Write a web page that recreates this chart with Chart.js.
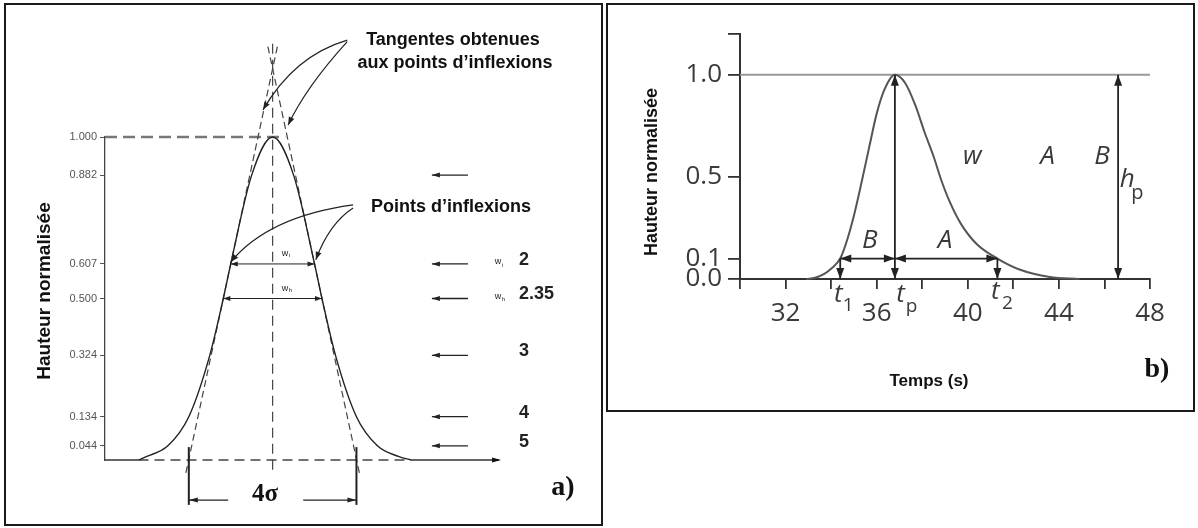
<!DOCTYPE html>
<html>
<head>
<meta charset="utf-8">
<script src="https://cdn.jsdelivr.net/npm/chart.js@4/dist/chart.umd.min.js"></script>
<style>
  body { margin: 0; background: #fff; width: 1198px; height: 528px; position: relative; overflow: hidden; }
  .box { position: absolute; border: 2px solid #1a1a1a; box-sizing: border-box; }
  #boxA { left: 4px; top: 3px; width: 599px; height: 523px; }
  #boxB { left: 606px; top: 3px; width: 589px; height: 409px; }
  canvas { position: absolute; }
  #cA { left: 0; top: 0; }
  #cB { left: 606px; top: 0; }
</style>
</head>
<body>
<div class="box" id="boxA"></div>
<div class="box" id="boxB"></div>
<canvas id="cA" width="604" height="528"></canvas>
<canvas id="cB" width="592" height="412"></canvas>
<script>
// ---- panneau a) : pic gaussien, x en unités de sigma ----
const gaussX = [-3.2, -3.0, -2.5, -2.0, -1.5, -1.177, -1.0, -0.5, 0, 0.5, 1.0, 1.177, 1.5, 2.0, 2.5, 3.0, 3.3]
const gaussY = [0, 0.011, 0.044, 0.134, 0.324, 0.500, 0.607, 0.882, 1.000, 0.882, 0.607, 0.500, 0.324, 0.134, 0.044, 0.011, 0]
const yTicksA = [0.044, 0.134, 0.324, 0.500, 0.607, 0.882, 1.000]
const tanLeftX = [-2.07, 0.13]
const tanLeftY = [-0.04, 1.29]
const tanRightX = [2.07, -0.13]
const tanRightY = [-0.04, 1.29]
const arrowLevelsA = [0.882, 0.607, 0.500, 0.324, 0.134, 0.044]
const widthLabelsA = ['', '2', '2.35', '3', '4', '5']
const widthSubA = ['', 'i', 'h', '', '', '']

// ---- panneau b) : pic avec traînée ----
const tempsB = [32.9, 33.3, 33.7, 34.0, 34.4, 34.7, 35.0, 35.35, 35.7, 36.0, 36.35, 36.8, 37.25, 37.7, 38.1, 38.5, 38.85, 39.2, 39.7, 40.4, 41.3, 42.3, 43.6, 44.9]
const hauteurB = [0, 0.006, 0.025, 0.05, 0.10, 0.19, 0.31, 0.48, 0.66, 0.81, 0.93, 1.0, 0.96, 0.85, 0.72, 0.60, 0.48, 0.38, 0.27, 0.17, 0.10, 0.045, 0.01, 0]
const xTicksB = [30, 32, 34, 36, 38, 40, 42, 44, 46, 48]
const xLabelsB = [32, 36, 40, 44, 48]
const yTicksB = [0, 0.1, 0.5, 1.0, 1.2]
const yLabelsB = ['0.0', '0.1', '0.5', '1.0', '']
const t1 = 34.4, tp = 36.8, t2 = 41.3, hpPos = 46.6

const pts = (xs, ys) => xs.map((x, i) => ({ x, y: ys[i] }))

function head(ctx, x, y, ang, len, half) {
  ctx.beginPath()
  ctx.moveTo(x, y)
  ctx.lineTo(x - len * Math.cos(ang) + half * Math.sin(ang), y - len * Math.sin(ang) - half * Math.cos(ang))
  ctx.lineTo(x - len * Math.cos(ang) - half * Math.sin(ang), y - len * Math.sin(ang) + half * Math.cos(ang))
  ctx.closePath()
  ctx.fill()
}

function arrow(ctx, x1, y1, x2, y2, a1, a2, len, half) {
  ctx.beginPath(); ctx.moveTo(x1, y1); ctx.lineTo(x2, y2); ctx.stroke()
  const ang = Math.atan2(y2 - y1, x2 - x1)
  if (a2) head(ctx, x2, y2, ang, len, half)
  if (a1) head(ctx, x1, y1, ang + Math.PI, len, half)
}

function curveArrow(ctx, p0, c, p1, len, half) {
  ctx.beginPath(); ctx.moveTo(p0[0], p0[1]); ctx.quadraticCurveTo(c[0], c[1], p1[0], p1[1]); ctx.stroke()
  head(ctx, p1[0], p1[1], Math.atan2(p1[1] - c[1], p1[0] - c[0]), len, half)
}

function text(ctx, s, x, y, font, align) {
  ctx.font = font
  ctx.textAlign = align || 'center'
  ctx.textBaseline = 'middle'
  ctx.fillText(s, x, y)
}

const annotA = {
  id: 'annotA',
  afterDraw(chart) {
    const ctx = chart.ctx
    const X = v => chart.scales.x.getPixelForValue(v)
    const Y = v => chart.scales.y.getPixelForValue(v)
    ctx.save()
    ctx.strokeStyle = '#222'; ctx.fillStyle = '#222'; ctx.lineWidth = 1.3

    // flèches à droite + largeurs en sigma
    arrowLevelsA.forEach((l, i) => {
      arrow(ctx, X(4.66), Y(l), X(3.8), Y(l), false, true, 8, 2.5)
      if (widthLabelsA[i]) text(ctx, widthLabelsA[i], X(5.88), Y(l) - 4, 'bold 18px "Liberation Sans"', 'left')
      if (widthSubA[i]) {
        text(ctx, 'w', X(5.3), Y(l) - 2, '9px "Liberation Sans"', 'left')
        text(ctx, widthSubA[i], X(5.3) + 7, Y(l) + 1, '6px "Liberation Sans"', 'left')
      }
    })

    // largeurs wi et wh
    ctx.lineWidth = 1
    arrow(ctx, X(-1), Y(0.607), X(1), Y(0.607), true, true, 7, 2.5)
    arrow(ctx, X(-1.177), Y(0.5), X(1.177), Y(0.5), true, true, 7, 2.5)
    text(ctx, 'w', X(0.22), Y(0.64), '9px "Liberation Sans"', 'left')
    text(ctx, 'i', X(0.22) + 7, Y(0.64) + 2, '6px "Liberation Sans"', 'left')
    text(ctx, 'w', X(0.22), Y(0.53), '9px "Liberation Sans"', 'left')
    text(ctx, 'h', X(0.22) + 7, Y(0.53) + 2, '6px "Liberation Sans"', 'left')

    // flèches courbes vers les points d'inflexion et les tangentes
    ctx.lineWidth = 1.2
    curveArrow(ctx, [X(1.92), Y(0.79)], [X(-0.11), Y(0.754)], [X(-1), Y(0.613)], 8, 3)
    curveArrow(ctx, [X(1.92), Y(0.78)], [X(1.35), Y(0.732)], [X(1.03), Y(0.62)], 8, 3)
    curveArrow(ctx, [X(1.78), Y(1.30)], [X(0.52), Y(1.252)], [X(-0.23), Y(1.084)], 8, 3)
    curveArrow(ctx, [X(1.78), Y(1.295)], [X(0.80), Y(1.155)], [X(0.37), Y(1.037)], 8, 3)

    // 4 sigma
    ctx.lineWidth = 2
    arrow(ctx, X(-2), Y(0.04), X(-2), Y(-0.139), false, false)
    arrow(ctx, X(2), Y(0.04), X(2), Y(-0.139), false, false)
    ctx.lineWidth = 1.3
    arrow(ctx, X(-1.06), Y(-0.124), X(-2), Y(-0.124), false, true, 9, 2.5)
    arrow(ctx, X(0.73), Y(-0.124), X(2), Y(-0.124), false, true, 9, 2.5)
    ctx.fillStyle = '#111'
    text(ctx, '4σ', X(-0.18), Y(-0.108), 'bold 25px "Liberation Serif"')

    // flèche de l'axe
    head(ctx, X(5.45), Y(0), 0, 9, 2.5)

    // textes
    text(ctx, 'Tangentes obtenues', 453, 40, 'bold 18px "Liberation Sans"')
    text(ctx, 'aux points d\u2019inflexions', 455, 63, 'bold 18px "Liberation Sans"')
    text(ctx, 'Points d\u2019inflexions', 451, 207, 'bold 18px "Liberation Sans"')
    text(ctx, 'a)', 563, 488, 'bold 28px "Liberation Serif"')
    ctx.translate(45, 291); ctx.rotate(-Math.PI / 2)
    text(ctx, 'Hauteur normalisée', 0, 0, 'bold 19px "Liberation Sans"')
    ctx.restore()
  }
}

const lineDs = (data, color, width, dash) => ({
  data, borderColor: color, borderWidth: width, borderDash: dash || [],
  showLine: true, pointRadius: 0, clip: false, tension: 0
})

const curveA = lineDs(pts(gaussX, gaussY), '#222', 1.4)
curveA.cubicInterpolationMode = 'monotone'

new Chart(document.getElementById('cA'), {
  type: 'scatter',
  data: {
    datasets: [
      curveA,
      lineDs(pts(tanLeftX, tanLeftY), '#444', 1.2, [7, 4]),
      lineDs(pts(tanRightX, tanRightY), '#444', 1.2, [7, 4]),
      lineDs(pts([0, 0], [-0.03, 1.3]), '#444', 1.2, [10, 6]),
      lineDs(pts([-4, 0.3], [1, 1]), '#777', 2.5, [12, 6]),
      lineDs(pts([-3.2, 3.3], [0, 0]), '#444', 1.3, [10, 6]),
      lineDs(pts([-4, -3.2], [0, 0]), '#333', 1.3),
      lineDs(pts([3.3, 5.4], [0, 0]), '#333', 1.3)
    ]
  },
  options: {
    responsive: false,
    animation: false,
    layout: { padding: { left: 55, top: 137, right: 38, bottom: 68 } },
    plugins: { legend: { display: false }, tooltip: { enabled: false } },
    scales: {
      x: { type: 'linear', min: -4, max: 7, display: false },
      y: {
        min: 0, max: 1,
        afterBuildTicks: ax => { ax.ticks = yTicksA.map(v => ({ value: v })) },
        afterFit: ax => { ax.width = 50 },
        ticks: {
          callback: v => v.toFixed(3),
          font: { family: 'Liberation Sans', size: 11 }, color: '#555', padding: 3
        },
        grid: { drawOnChartArea: false, tickLength: 5, color: '#555' },
        border: { color: '#444', width: 1.3 }
      }
    }
  },
  plugins: [annotA]
})

const annotB = {
  id: 'annotB',
  afterDraw(chart) {
    const ctx = chart.ctx
    const X = v => chart.scales.x.getPixelForValue(v)
    const Y = v => chart.scales.y.getPixelForValue(v)
    ctx.save()
    ctx.strokeStyle = '#222'; ctx.fillStyle = '#222'; ctx.lineWidth = 1.8
    arrow(ctx, X(tp), Y(0), X(tp), Y(1), true, true, 11, 4)
    arrow(ctx, X(hpPos), Y(0), X(hpPos), Y(1), true, true, 11, 4)
    arrow(ctx, X(t1), Y(0.1), X(tp), Y(0.1), true, true, 11, 4)
    arrow(ctx, X(tp), Y(0.1), X(t2), Y(0.1), true, true, 11, 4)
    arrow(ctx, X(t1), Y(0.1), X(t1), Y(0), false, true, 11, 4)
    arrow(ctx, X(t2), Y(0.1), X(t2), Y(0), false, true, 11, 4)

    ctx.fillStyle = '#3a3a3a'
    const it = 'italic 26px "Open Sans"'
    text(ctx, 'B', X(35.7), Y(0.19), it)
    text(ctx, 'A', X(39.0), Y(0.19), it)
    text(ctx, 'w', X(40.2), Y(0.6), it)
    text(ctx, 'A', X(43.5), Y(0.6), it)
    text(ctx, 'B', X(45.9), Y(0.6), it)
    text(ctx, 'h', X(47.0), Y(0.485), it)
    text(ctx, 'p', X(47.45), Y(0.42), '20px "Open Sans"')

    // étiquettes t1, tp, t2 sous l'axe
    const yb = Y(0)
    text(ctx, 't', X(t1) - 2, yb + 16, it)
    text(ctx, '1', X(t1) + 8, yb + 27, '19px "Open Sans"')
    text(ctx, 't', X(37.05), yb + 16, it)
    text(ctx, 'p', X(37.05) + 11, yb + 28, '19px "Open Sans"')
    text(ctx, 't', X(t2) - 2, yb + 13, it)
    text(ctx, '2', X(t2) + 10, yb + 25, '19px "Open Sans"')

    ctx.fillStyle = '#111'
    text(ctx, 'Temps (s)', 929 - 606, 381, 'bold 17px "Liberation Sans"')
    text(ctx, 'b)', 1157 - 606, 370, 'bold 28px "Liberation Serif"')
    ctx.translate(652 - 606, 172); ctx.rotate(-Math.PI / 2)
    text(ctx, 'Hauteur normalisée', 0, 0, 'bold 18px "Liberation Sans"')
    ctx.restore()
  }
}

new Chart(document.getElementById('cB'), {
  type: 'scatter',
  data: {
    datasets: [
      Object.assign(lineDs(pts(tempsB, hauteurB), '#555', 2), { cubicInterpolationMode: 'monotone' }),
      lineDs(pts([30, 48], [1, 1]), '#999', 2)
    ]
  },
  options: {
    responsive: false,
    animation: false,
    layout: { padding: { left: 74, top: 34, right: 48, bottom: 73 } },
    plugins: { legend: { display: false }, tooltip: { enabled: false } },
    scales: {
      x: {
        type: 'linear', min: 30, max: 48,
        afterBuildTicks: ax => { ax.ticks = xTicksB.map(v => ({ value: v })) },
        afterFit: ax => { ax.height = 60 },
        ticks: {
          callback: v => xLabelsB.includes(v) ? String(v) : '',
          font: { family: 'Open Sans', size: 26 }, color: '#3a3a3a', padding: 9,
          maxRotation: 0, autoSkip: false
        },
        grid: { drawOnChartArea: false, tickLength: 10, color: '#333', lineWidth: 1.8 },
        border: { color: '#333', width: 2 }
      },
      y: {
        min: 0, max: 1.2,
        afterBuildTicks: ax => { ax.ticks = yTicksB.map(v => ({ value: v })) },
        afterFit: ax => { ax.width = 60 },
        ticks: {
          callback: (v, i) => yLabelsB[i],
          font: { family: 'Open Sans', size: 26 }, color: '#3a3a3a', padding: 6
        },
        grid: { drawOnChartArea: false, tickLength: 12, color: '#333', lineWidth: 1.8 },
        border: { color: '#333', width: 2 }
      }
    }
  },
  plugins: [annotB]
})
</script>
</body>
</html>
